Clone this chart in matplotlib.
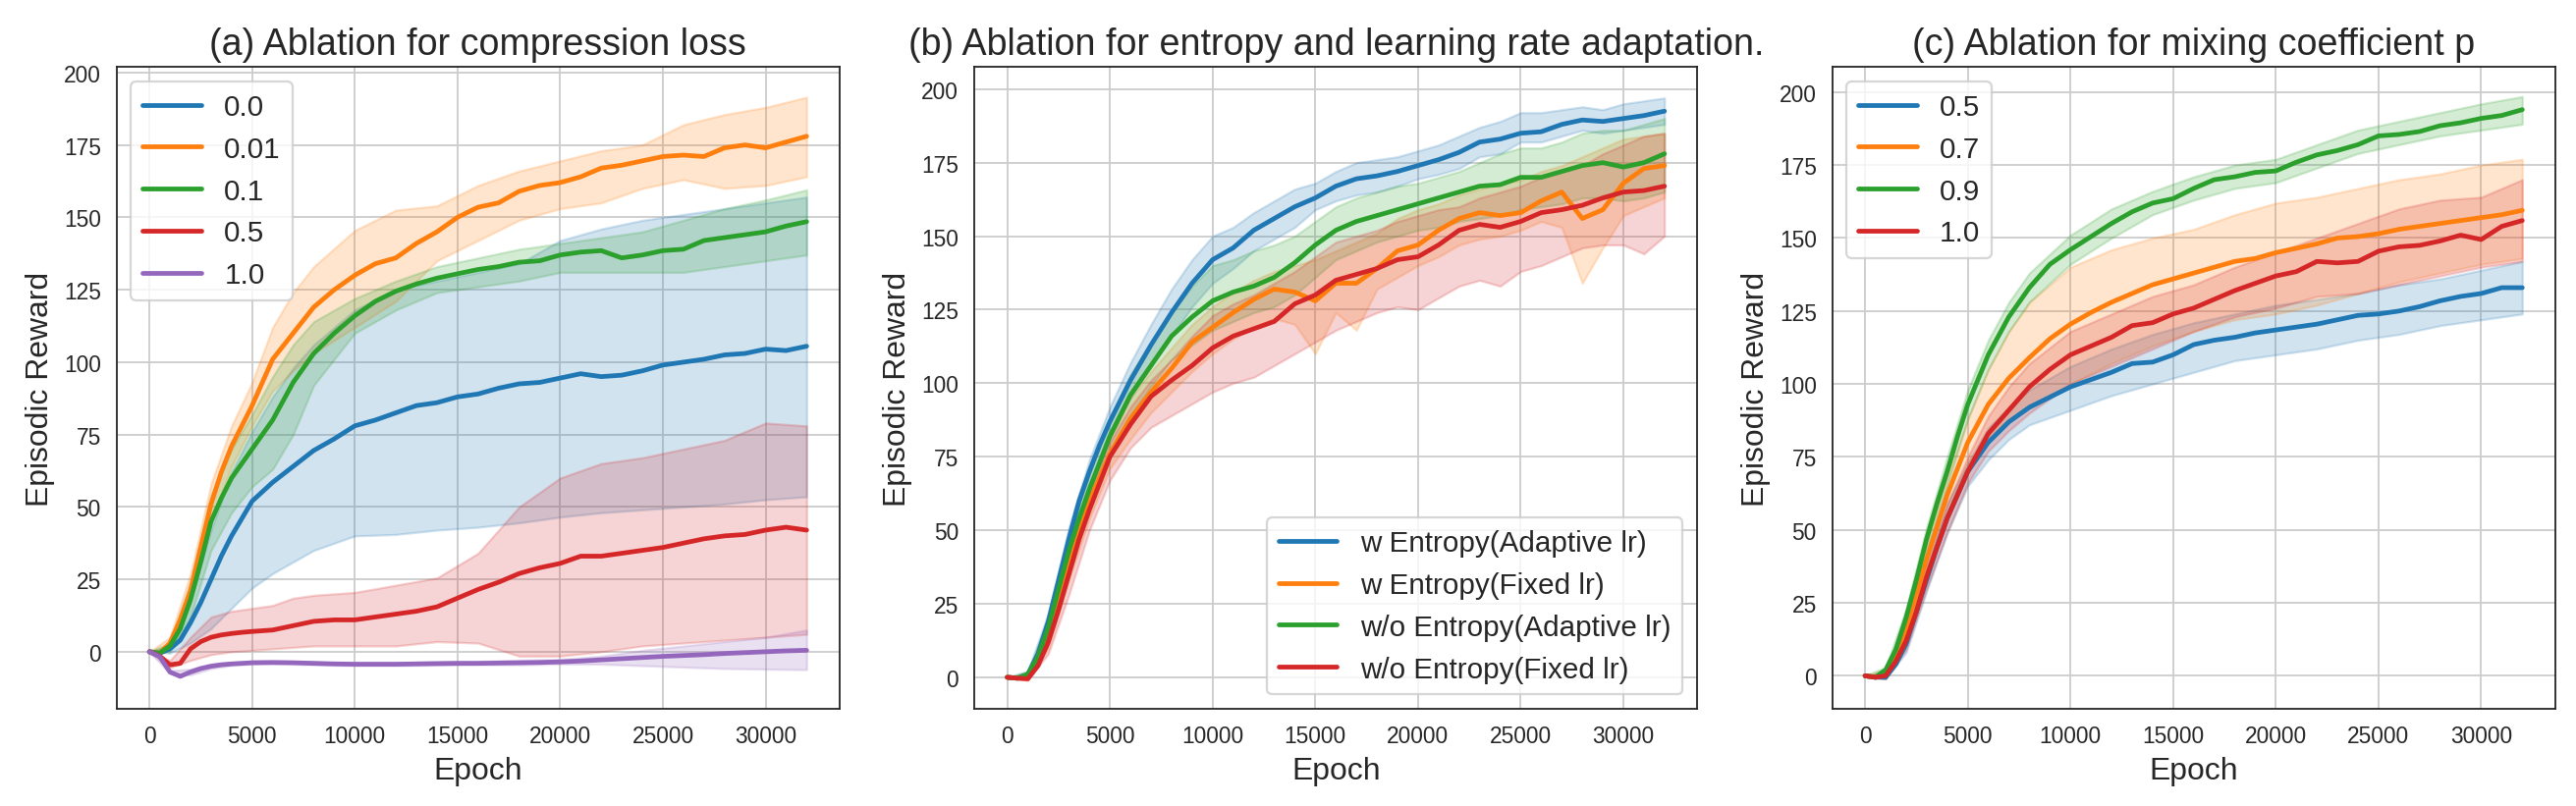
import matplotlib
matplotlib.use("Agg")
import matplotlib.pyplot as plt
import seaborn as sns

sns.set_style("white")
plt.rcParams['font.family'] = ['Liberation Sans', 'DejaVu Sans']

# mean curves share this epoch grid (finer at the start)
EPOCH = [0, 500, 1000, 1500, 2000, 2500, 3000, 3500, 4000, 4500, 5000,
         6000, 7000, 8000, 9000, 10000, 11000, 12000, 13000, 14000, 15000,
         16000, 17000, 18000, 19000, 20000, 21000, 22000, 23000, 24000,
         25000, 26000, 27000, 28000, 29000, 30000, 31000, 32000]

# std bands for (a) and (c) are read on a coarser grid
BAND_X = [0, 1000, 2000, 3000, 4000, 5000, 6000, 7000, 8000, 10000, 12000,
          14000, 16000, 18000, 20000, 22000, 24000, 26000, 28000, 30000, 32000]

# (b) bands every 1000 epochs
BAND_B = [0, 1000, 2000, 3000, 4000, 5000, 6000, 7000, 8000, 9000, 10000,
          11000, 12000, 13000, 14000, 15000, 16000, 17000, 18000, 19000, 20000,
          21000, 22000, 23000, 24000, 25000, 26000, 27000, 28000, 29000, 30000,
          31000, 32000]

# ---------------- (a) compression loss ----------------
a_labels = ['0.0', '0.01', '0.1', '0.5', '1.0']
a_00 = [0, -0.5, 1, 4, 10, 17, 25, 33, 40, 46, 52, 58.5, 64, 69.5, 73.5, 78, 80, 82.5, 85, 86, 88,
        89, 91, 92.5, 93, 94.5, 96, 95, 95.5, 97, 99, 100, 101, 102.5, 103, 104.5, 104, 105.5]
a_001 = [0, -0.5, 3, 11, 21, 36, 51, 62, 71, 78, 85, 101, 110, 119, 125, 130, 134, 136, 141, 145, 150,
         153.5, 155, 159, 161, 162, 164, 167, 168, 169.5, 171, 171.5, 171, 174, 175, 174, 176, 178]
a_01 = [0, -0.5, 2, 8, 18, 31, 45, 53, 60, 65, 70, 80, 93, 103, 110, 116, 121, 124.5, 127, 129, 130.5,
        132, 133, 134.5, 135, 137, 138, 138.5, 136, 137, 138.5, 139, 142, 143, 144, 145, 147, 148.5]
a_05 = [0, -1.5, -4.5, -4, 1, 3.5, 5, 5.8, 6.3, 6.7, 7, 7.5, 9, 10.5, 11, 11, 12, 13, 14, 15.5, 18.5,
        21.5, 24, 27, 29, 30.5, 33, 33, 34, 35, 36, 37.5, 39, 40, 40.5, 42, 43, 42]
a_10 = [0, -1.7, -7, -8.5, -7, -5.8, -5, -4.5, -4.2, -4, -3.8, -3.7, -3.8, -4, -4.2, -4.3, -4.3, -4.3,
        -4.2, -4.1, -4, -4, -3.9, -3.8, -3.7, -3.5, -3.2, -2.8, -2.4, -2, -1.6, -1.3, -1, -0.6, -0.3,
        0, 0.3, 0.5]

a_00_lo = [0, -0.5, 3, 8, 15, 22, 27, 31, 35, 40, 40.5, 42, 43, 44.5, 46.5, 48, 49, 50, 51, 52.5, 53.5]
a_00_hi = [0, 2, 18, 42, 62, 76, 88, 98, 106, 118, 125, 128, 131, 134, 142, 146, 149, 151, 153, 155, 157]
a_001_lo = [0, 1, 17, 45, 64, 78, 90, 97, 103, 112, 121, 135, 142, 149, 153, 155, 160, 163, 160, 161, 164]
a_001_hi = [0, 5, 27, 58, 78, 93, 112, 124, 133, 145.5, 152.5, 154, 161, 166, 169.5, 173, 175, 182,
            185.5, 188, 191.5]
a_01_lo = [0, 0, 12, 35, 48, 57, 63, 75, 92, 110, 118, 124, 126, 128, 131, 131, 131, 131, 133, 135, 137]
a_01_hi = [0, 3, 24, 54, 70, 82, 95, 106, 114, 122, 128, 133, 136, 139, 141, 143, 145, 149, 153, 156, 159.5]
a_05_lo = [0, -5.5, -3, -1, 0, 0.5, 1, 1.5, 2, 2, 2, 3.5, 3, -1.5, -1.5, 0, 2, 3, 4, 5, 6]
a_05_hi = [0, -3, 5, 12, 14, 15, 16, 18.5, 19.5, 20.5, 23, 25.5, 34, 50, 60, 65, 67, 70, 73, 79, 78]
a_10_lo = [0, -7.5, -8, -5.8, -4.7, -4.2, -4.2, -4.3, -4.5, -4.8, -4.8, -4.6, -4.5, -4.5, -4.2, -4.3,
           -4.8, -5.3, -5.8, -6, -6.2]
a_10_hi = [0, -6.5, -6, -4.2, -3.7, -3.2, -3.2, -3.3, -3.5, -3.8, -3.8, -3.4, -3.3, -2.9, -2.6, -1.5,
           0.5, 2, 3.5, 5, 7.5]

# ---------------- (b) entropy / lr adaptation ----------------
b_labels = ['w Entropy(Adaptive lr)', 'w Entropy(Fixed lr)',
            'w/o Entropy(Adaptive lr)', 'w/o Entropy(Fixed lr)']
b_w_ad = [0, -0.3, 1, 8, 19, 33, 47, 60, 70, 79, 87, 101, 113, 124, 134, 142, 146, 152, 156, 160, 163,
          167, 169.5, 170.5, 172, 174, 176, 178.5, 182, 183, 185, 185.5, 188, 189.5, 189, 190, 191, 192.5]
b_w_fx = [0, -0.3, 0, 5, 14, 26, 38, 50, 60, 68, 76, 88, 97, 105, 114, 119, 124, 128.5, 132, 131, 128,
          134, 134, 139, 145, 147, 152, 156, 158, 157, 158, 162, 165, 156, 159, 168, 173, 174]
b_wo_ad = [0, -0.3, 1, 7, 17, 30, 43, 54, 64, 73, 82, 96, 106, 116, 122.5, 128, 131, 133, 136, 141, 147,
           152, 155, 157, 159, 161, 163, 165, 167, 167.5, 170, 170, 172, 174, 175, 173.5, 175, 178]
b_wo_fx = [0, -0.3, -0.5, 4, 12, 23, 35, 47, 57, 66, 75, 86, 95.5, 101, 106, 112, 116, 118.5, 121, 127,
           130, 135, 137, 139, 142, 143, 147, 152, 154, 153, 155, 158, 159, 160.5, 163, 165, 165.5, 167]

b_w_ad_lo = [0, 0, 16, 43, 66, 82, 95, 106, 116, 126, 134, 139, 145, 149, 153, 159, 162, 164, 165, 167,
             169.5, 171, 173, 177, 178, 182, 182, 184, 186, 185, 186, 187, 188]
b_w_ad_hi = [0, 2, 22, 51, 74, 92, 107, 120, 132, 142, 150, 153, 158, 162, 166, 168, 172, 175, 176, 177,
             179, 181, 184, 187, 189, 192, 192, 193, 194, 193, 195, 196, 197]
b_w_fx_lo = [0, -1, 10, 33, 54, 71, 81, 90, 97, 104, 110, 115, 119, 122, 120, 110, 124, 118, 132, 136,
             140, 143, 147, 149, 150, 152, 155, 153, 134, 146, 157, 160, 163]
b_w_fx_hi = [0, 1, 18, 44, 65, 81, 95, 104, 112, 120, 126, 131, 135, 138, 140, 142, 145, 148, 151, 156,
             159, 161, 164, 166, 168, 169, 172, 174, 177, 180, 183, 184, 185]
b_wo_ad_lo = [0, 0, 14, 38, 59, 76, 89, 99, 108, 113, 118, 121, 124, 126, 130, 136, 142, 145, 148, 150,
              152, 153, 155, 156, 157, 159, 160, 161, 163, 163, 162, 163, 165]
b_wo_ad_hi = [0, 2, 20, 48, 69, 88, 103, 114, 124, 133, 140, 142, 145, 147, 150, 155, 160, 163, 165, 167,
              168, 170, 172, 175, 178, 180, 180, 182, 185, 186, 186, 188, 190]
b_wo_fx_lo = [0, -1, 8, 28, 50, 67, 78, 85, 89, 93, 97, 100, 102, 106, 110, 114, 118, 121, 124, 126,
              125, 129, 133, 135, 133, 138, 140, 143, 146, 147, 147, 144, 150]
b_wo_fx_hi = [0, 0, 16, 42, 63, 80, 92, 101, 108, 116, 123, 127, 130, 134, 138, 143, 148, 150, 152, 155,
              157, 159, 160, 163, 165, 167, 170, 172, 174, 178, 181, 184, 185]

# ---------------- (c) mixing coefficient p ----------------
c_labels = ['0.5', '0.7', '0.9', '1.0']
c_05 = [0, -0.5, -0.5, 4, 11, 22, 33, 44, 54, 62, 70, 80, 87, 92, 95.5, 99, 101.5, 104, 107, 107.5, 110,
        113.5, 115, 116, 117.5, 118.5, 119.5, 120.5, 122, 123.5, 124, 125, 126.5, 128.5, 130, 131, 133, 133]
c_07 = [0, -0.5, 1, 7, 16, 28, 40, 51, 62, 71, 80, 93, 102, 109, 115.5, 120.5, 124.5, 128, 131, 134, 136,
        138, 140, 142, 143, 145, 146.5, 148, 150, 150.5, 151.5, 153, 154, 155, 156, 157, 158, 159.5]
c_09 = [0, -0.5, 2, 9, 20, 33, 47, 59, 70, 82, 93, 110, 123, 133, 141, 146, 150.5, 155, 159, 162, 163.5,
        167, 170, 171, 172.5, 173, 176, 178.5, 180, 182, 185, 185.5, 186.5, 188.5, 189.5, 191, 192, 194]
c_10 = [0, -0.5, 0, 5, 12, 22, 34, 44, 54, 62, 70, 83, 91, 99, 105, 110, 113, 116, 120, 121, 124,
        126, 129, 132, 134.5, 137, 138.5, 142, 141.5, 142, 145.5, 147, 147.5, 149, 151, 149.5, 154, 156]

c_05_lo = [0, -1, 8, 29, 49, 65, 74, 81, 86, 91, 96, 100, 104, 108, 110, 112, 115, 117, 120, 122, 124]
c_05_hi = [0, 0, 14, 37, 59, 73, 85, 92, 98, 106, 112, 117, 121, 124, 127, 129, 131, 134, 136, 139, 142]
c_07_lo = [0, -1, 12, 35, 56, 73, 82, 88, 92, 100, 107, 113, 118, 122, 124, 127, 131, 135, 138, 141, 143]
c_07_hi = [0, 2, 20, 46, 68, 88, 105, 118, 128, 140, 146, 150, 153, 158, 162, 164, 167, 170, 172, 175, 177]
c_09_lo = [0, 0, 17, 43, 65, 88, 105, 118, 128, 141, 150, 158, 163, 167, 169, 174, 179, 182, 185, 187, 189]
c_09_hi = [0, 3, 23, 51, 75, 98, 115, 128, 138, 151, 160, 166, 171, 175, 177, 182, 187, 190, 193, 196, 198.5]
c_10_lo = [0, -1, 9, 30, 49, 66, 77, 84, 90, 100, 106, 112, 118, 123, 126, 130, 131, 134, 137, 140, 142]
c_10_hi = [0, 1, 15, 38, 59, 75, 89, 99, 107, 118, 124, 130, 134, 140, 145, 150, 155, 160, 163, 164, 170]

colors = ['#1f77b4', '#ff7f0e', '#2ca02c', '#d62728', '#9467bd']

fig, axes = plt.subplots(1, 3, figsize=(2623 / 164, 822 / 164), dpi=164)
fig.subplots_adjust(left=0.04525, right=0.9919, bottom=0.1201, top=0.9157, wspace=0.1866)


def panel(ax, means, bands, band_x, labels, title, ylim, loc):
    for i, (m, (lo, hi), lab) in enumerate(zip(means, bands, labels)):
        ax.plot(EPOCH, m, color=colors[i], lw=2.1, label=lab)
        ax.fill_between(band_x, lo, hi, color=colors[i], alpha=0.2)
    ax.set_xlim(-1600, 33600)
    ax.set_ylim(*ylim)
    ax.set_xticks(range(0, 30001, 5000))
    ax.set_yticks(range(0, 201, 25))
    ax.grid(True, color='.8')
    ax.set_axisbelow(True)
    ax.tick_params(labelsize=10)
    ax.set_xlabel('Epoch', fontsize=14)
    ax.set_ylabel('Episodic Reward', fontsize=14)
    ax.set_title(title, fontsize=16.5)
    ax.legend(loc=loc, fontsize=13)


panel(axes[0], [a_00, a_001, a_01, a_05, a_10],
      [(a_00_lo, a_00_hi), (a_001_lo, a_001_hi), (a_01_lo, a_01_hi), (a_05_lo, a_05_hi), (a_10_lo, a_10_hi)],
      BAND_X, a_labels, '(a) Ablation for compression loss', (-19.8, 201.9), 'upper left')
panel(axes[1], [b_w_ad, b_w_fx, b_wo_ad, b_wo_fx],
      [(b_w_ad_lo, b_w_ad_hi), (b_w_fx_lo, b_w_fx_hi), (b_wo_ad_lo, b_wo_ad_hi), (b_wo_fx_lo, b_wo_fx_hi)],
      BAND_B, b_labels, '(b) Ablation for entropy and learning rate adaptation.', (-10.8, 207.5), 'lower right')
panel(axes[2], [c_05, c_07, c_09, c_10],
      [(c_05_lo, c_05_hi), (c_07_lo, c_07_hi), (c_09_lo, c_09_hi), (c_10_lo, c_10_hi)],
      BAND_X, c_labels, '(c) Ablation for mixing coefficient p', (-11.4, 208.6), 'upper left')

fig.savefig('out.png', dpi=164)
